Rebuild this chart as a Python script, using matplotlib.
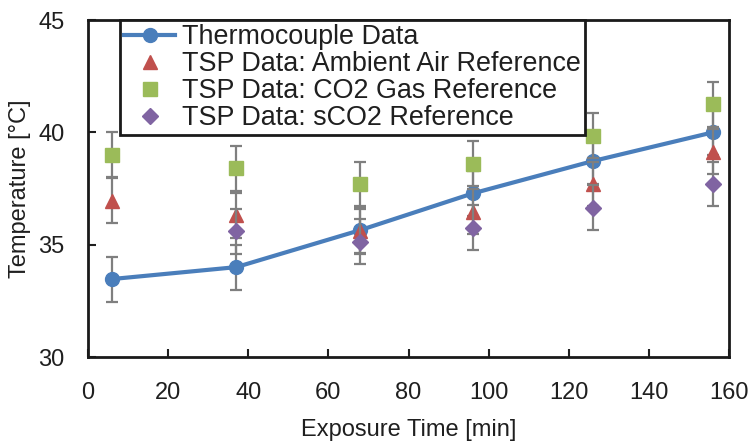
import matplotlib
matplotlib.use("Agg")
import matplotlib.pyplot as plt

plt.rcParams['font.family'] = ['Liberation Sans', 'DejaVu Sans']

# Thermocouple measurements
tc_time = [6, 37, 68, 96, 126, 156]
tc_temp = [33.47, 34.0, 35.65, 37.28, 38.72, 40.0]
tc_err = [1.0, 1.0, 1.0, 1.0, 1.0, 1.0]

# TSP data, ambient air reference
air_time = [6, 37, 68, 96, 126, 156]
air_temp = [36.96, 36.3, 35.6, 36.47, 37.7, 39.14]
air_err = [1.0, 1.0, 1.0, 1.0, 1.0, 1.0]

# TSP data, CO2 gas reference
gas_time = [6, 37, 68, 96, 126, 156]
gas_temp = [39.0, 38.4, 37.7, 38.6, 39.84, 41.25]
gas_err = [1.0, 1.0, 1.0, 1.0, 1.0, 1.0]

# TSP data, sCO2 reference
sco2_time = [37, 68, 96, 126, 156]
sco2_temp = [35.6, 35.13, 35.75, 36.64, 37.7]
sco2_err = [1.0, 1.0, 1.0, 1.0, 1.0]

x_ticks = [0, 20, 40, 60, 80, 100, 120, 140, 160]
y_ticks = [30, 35, 40, 45]

text_color = '#1f1f1f'
err_color = '#7f7f7f'

fig = plt.figure(figsize=(7.52, 4.44), dpi=100)
ax = fig.add_axes([88/752, 1 - 357/444, (729 - 88)/752, (357 - 20)/444])

common = dict(ecolor=err_color, elinewidth=1.6, capsize=4.3, capthick=1.6)

ax.errorbar(tc_time, tc_temp, yerr=tc_err, color='#4a7ebb', lw=3, marker='o',
            markersize=10, label='Thermocouple Data', zorder=3, **common)
ax.errorbar(air_time, air_temp, yerr=air_err, color='#c0504d', ls='none', marker='^',
            markersize=10, label='TSP Data: Ambient Air Reference', zorder=4, **common)
ax.errorbar(gas_time, gas_temp, yerr=gas_err, color='#9bbb59', ls='none', marker='s',
            markersize=10, label='TSP Data: CO2 Gas Reference', zorder=5, **common)
ax.errorbar(sco2_time, sco2_temp, yerr=sco2_err, color='#8064a2', ls='none', marker='D',
            markersize=8.5, label='TSP Data: sCO2 Reference', zorder=6, **common)

ax.set_xlim(0, 160)
ax.set_ylim(30, 45)
ax.set_xticks(x_ticks)
ax.set_yticks(y_ticks)
ax.tick_params(direction='in', length=6, width=1.5, colors=text_color,
               labelsize=17)
ax.tick_params(axis='x', pad=18)
ax.tick_params(axis='y', pad=17)
for sp in ax.spines.values():
    sp.set_linewidth(2)
    sp.set_color('#1a1a1a')

ax.set_xlabel('Exposure Time [min]', fontsize=17, color=text_color, labelpad=11)
ax.set_ylabel('Temperature [°C]', fontsize=17, color=text_color, labelpad=5)

# legend shows only the line/marker part of each errorbar container
handles, labels = ax.get_legend_handles_labels()
handles = [h[0] for h in handles]
leg = ax.legend(handles, labels, loc='upper left',
                bbox_to_anchor=(120/752, 1 - 20/444), bbox_transform=fig.transFigure,
                fontsize=19.4, frameon=True, fancybox=False, borderpad=0.15,
                labelspacing=0.04, handlelength=1.9, handletextpad=0.25,
                borderaxespad=0)
leg.get_frame().set_edgecolor('#1a1a1a')
leg.get_frame().set_linewidth(2)
leg.get_frame().set_alpha(1)
leg.set_zorder(10)
for t in leg.get_texts():
    t.set_color(text_color)

fig.savefig('out.png', dpi=100)
